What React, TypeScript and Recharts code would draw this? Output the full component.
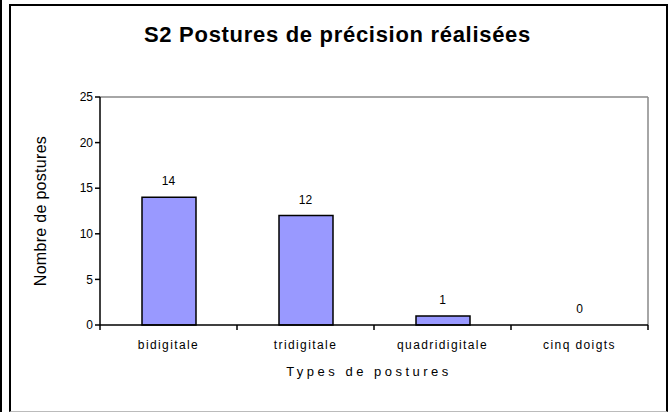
import { ComposedChart, Bar, Line, XAxis, YAxis, CartesianGrid } from 'recharts';

const categories = ['bidigitale', 'tridigitale', 'quadridigitale', 'cinq doigts'];
const postureCounts = [14, 12, 1, 0];
const yTicks = [0, 5, 10, 15, 20, 25];

const data = categories.map((name, i) => ({ name, value: postureCounts[i] }));

const FONT = 'Arial, "Liberation Sans", sans-serif';

// category label + Excel-style tick marks on the band boundaries
function CategoryTick(props: any) {
  const { x, y, payload, index } = props;
  const half = payload?.offset || 68.5;
  return (
    <g>
      <line x1={x - half} x2={x - half} y1={y} y2={y + 5} stroke="#000" strokeWidth={1.5} />
      {index === categories.length - 1 && (
        <line x1={x + half} x2={x + half} y1={y} y2={y + 5} stroke="#000" strokeWidth={1.5} />
      )}
      <text
        x={x}
        y={y}
        dy={24}
        textAnchor="middle"
        fill="#000"
        fontSize={12}
        fontFamily={FONT}
        letterSpacing={1.4}
      >
        {payload.value}
      </text>
    </g>
  );
}

// value labels sit above each bar top, zero bars included
function ValueLabel(props: any) {
  const { x, y, value } = props;
  return (
    <text x={x} y={y - 12} textAnchor="middle" fill="#000" fontSize={12} fontFamily={FONT}>
      {String(value)}
    </text>
  );
}

export default function App() {
  return (
    <div
      style={{
        position: 'absolute',
        left: 0,
        top: 0,
        width: 671,
        height: 412,
        background: '#fff',
        fontFamily: FONT,
      }}
    >
      <div style={{ position: 'absolute', left: 0, top: 0, width: 2, height: 412, background: '#000' }} />
      <div
        style={{
          position: 'absolute',
          left: 9,
          top: 4,
          width: 655,
          height: 405,
          borderTop: '2px solid #000',
          borderLeft: '2px solid #000',
          borderRight: '2px solid #000',
          borderBottom: '1px solid #bbb',
        }}
      />
      <div
        style={{
          position: 'absolute',
          left: 0,
          width: 675,
          top: 22,
          textAlign: 'center',
          fontWeight: 'bold',
          fontSize: 22,
          letterSpacing: 0.7,
        }}
      >
        S2 Postures de précision réalisées
      </div>
      <div style={{ position: 'absolute', left: 0, top: 0 }}>
        <ComposedChart
          width={671}
          height={412}
          data={data}
          margin={{ top: 97, right: 23, bottom: 57, left: 60 }}
        >
          <CartesianGrid
            stroke="#888"
            strokeWidth={1.5}
            horizontalCoordinatesGenerator={({ offset }: any) => [offset.top]}
            verticalCoordinatesGenerator={({ offset }: any) => [offset.left + offset.width]}
          />
          <XAxis
            dataKey="name"
            axisLine={{ stroke: '#000', strokeWidth: 1.5 }}
            tickLine={false}
            tick={<CategoryTick />}
            tickSize={0}
            tickMargin={0}
            height={30}
            interval={0}
          />
          <YAxis
            domain={[0, 25]}
            ticks={yTicks}
            width={40}
            axisLine={{ stroke: '#000', strokeWidth: 1.5 }}
            tickLine={{ stroke: '#000', strokeWidth: 1.5 }}
            tickSize={5}
            tick={{ fill: '#000', fontSize: 12, fontFamily: FONT }}
            label={{
              value: 'Nombre de postures',
              angle: -90,
              position: 'insideLeft',
              dx: -25,
              dy: 0,
              style: { textAnchor: 'middle', fill: '#000', fontSize: 16, fontFamily: FONT, letterSpacing: 0.3 },
            }}
          />
          <Bar
            dataKey="value"
            fill="#9999FF"
            stroke="#000"
            strokeWidth={1.5}
            barSize={54}
            isAnimationActive={false}
          />
          <Line
            dataKey="value"
            stroke="none"
            dot={false}
            activeDot={false}
            legendType="none"
            label={<ValueLabel />}
            isAnimationActive={false}
          />
        </ComposedChart>
      </div>
      <div
        style={{
          position: 'absolute',
          left: 100,
          width: 538,
          top: 364,
          textAlign: 'center',
          fontSize: 13,
          letterSpacing: 3.5,
        }}
      >
        Types de postures
      </div>
    </div>
  );
}
